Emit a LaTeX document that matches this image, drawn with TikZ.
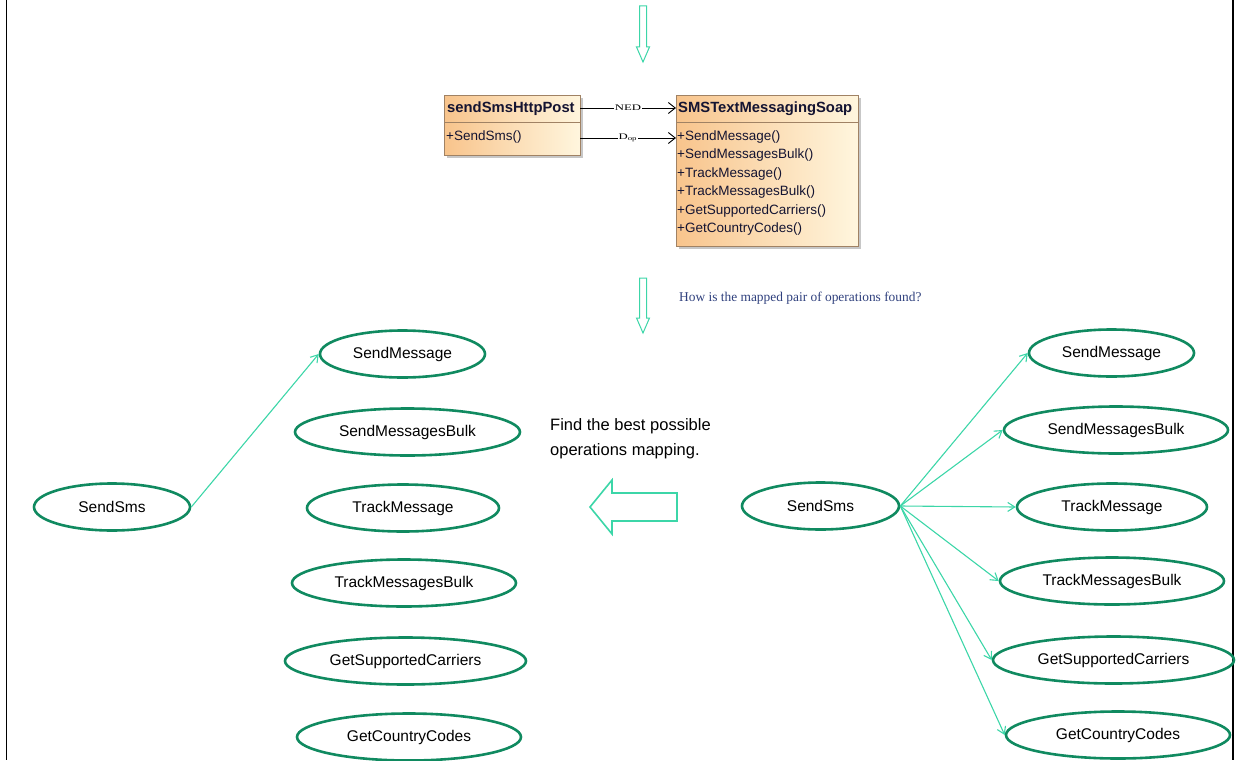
\documentclass[tikz,border=0pt]{standalone}
\usepackage{fontspec}
\setmainfont{Liberation Sans}
\newfontfamily\serifq{Liberation Serif}
\usetikzlibrary{shapes.geometric,arrows.meta,shadows}
\definecolor{teal2}{RGB}{60,214,168}
\definecolor{egreen}{RGB}{16,138,96}
\definecolor{qblue}{RGB}{47,64,125}
\definecolor{umlA}{RGB}{248,196,140}
\definecolor{umlB}{RGB}{255,246,222}
\definecolor{umlBorder}{RGB}{160,130,100}
\definecolor{umlText}{RGB}{20,20,50}
\newcommand{\widelab}[1]{\scalebox{1.5}[1]{#1}}
\tikzset{
  opnode/.style={ellipse, draw=egreen, line width=2.6pt, minimum height=47, inner sep=0pt,
     font=\fontsize{15.5}{18}\selectfont, text=black},
  maplink/.style={draw=teal2, line width=1.1pt, -{Straight Barb[length=7pt,width=9pt]}},
  hollowarrow/.style={draw=teal2, line width=1.3pt, fill=white},
  umlbox/.style={draw=umlBorder, line width=0.8pt, left color=umlA, right color=umlB,
     drop shadow={shadow xshift=3pt, shadow yshift=-3pt, fill=gray!55, opacity=0.8}},
  umltext/.style={text=umlText, inner sep=0pt, anchor=west},
  umllink/.style={draw=black, line width=0.9pt, -{Straight Barb[length=7pt,width=11pt]}},
  linklabel/.style={fill=white, inner sep=0.5pt, font=\serifq\fontsize{8.5}{10}\selectfont}
}
\begin{document}
\begin{tikzpicture}[x=1pt,y=-1pt]
\useasboundingbox (0,0) rectangle (1238,760);
% frame side lines
\draw[line width=1.4pt] (6.5,0) -- (6.5,760);
\draw[line width=1.4pt] (1233,0) -- (1233,760);

% top hollow down arrow
\draw[hollowarrow, line width=1pt] (639.5,6) -- (646.5,6) -- (646.5,47) -- (649.5,47) -- (643,62) -- (636.5,47) -- (639.5,47) -- cycle;

% UML classes
\node[umlbox, minimum width=136, minimum height=60, anchor=north west, inner sep=0pt] (post) at (444,95) {};
\draw[umlBorder, line width=0.8pt] (444,122) -- (580,122);
\node[umltext, font=\bfseries\fontsize{14.8}{16}\selectfont] (postname) at (447,109) {sendSmsHttpPost};
\node[umltext, font=\fontsize{13.5}{16}\selectfont] (postop) at (446,137.5) {+SendSms()};
\coordinate (postbody) at (580,138);

\node[umlbox, minimum width=182, minimum height=151, anchor=north west, inner sep=0pt] (soap) at (676,95) {};
\draw[umlBorder, line width=0.8pt] (676,122) -- (858,122);
\node[umltext, font=\bfseries\fontsize{14.8}{16}\selectfont] (soapname) at (678,109) {SMSTextMessagingSoap};
\node[umltext, anchor=north west, align=left, font=\fontsize{13.5}{18.4}\selectfont] (soapops) at (677,130.5)
  {+SendMessage()\\+SendMessagesBulk()\\+TrackMessage()\\+TrackMessagesBulk()\\+GetSupportedCarriers()\\+GetCountryCodes()};
\coordinate (soaphead) at (676,108);
\coordinate (soapbody) at (676,138);
\coordinate (posthead) at (580,108);

\draw[umllink] (posthead) -- node[linklabel] {\widelab{NED}} (soaphead);
\draw[umllink] (postbody) -- node[linklabel] {\widelab{D\textsubscript{op}}} (soapbody);

% second hollow down arrow
\draw[hollowarrow, line width=1pt] (639.5,278) -- (646.5,278) -- (646.5,318) -- (649.5,318) -- (643,333) -- (636.5,318) -- (639.5,318) -- cycle;
\node[anchor=west, text=qblue, font=\serifq\fontsize{13.4}{15}\selectfont, inner sep=0pt] (question) at (679,298) {How is the mapped pair of operations found?};

% left side
\node[opnode, minimum width=156] (lsms) at (112,507) {SendSms};
\node[opnode, minimum width=165] (l1) at (402.5,354) {SendMessage};
\node[opnode, minimum width=225] (l2) at (407.5,432) {SendMessagesBulk};
\node[opnode, minimum width=192] (l3) at (403,508) {TrackMessage};
\node[opnode, minimum width=224] (l4) at (404,583) {TrackMessagesBulk};
\node[opnode, minimum width=241] (l5) at (405.5,661) {GetSupportedCarriers};
\node[opnode, minimum width=224] (l6) at (409,737) {GetCountryCodes};
\draw[maplink] (lsms.east) -- (l1.west);

% middle text and big arrow
\node[anchor=north west, align=left, font=\fontsize{16.5}{25}\selectfont, inner sep=0pt] (findtext) at (550,418)
  {Find the best possible\\operations mapping.};
\draw[hollowarrow, line width=1.6pt] (590,507) -- (612,480) -- (612,493) -- (677,493) -- (677,521) -- (612,521) -- (612,534) -- cycle;

% right side
\node[opnode, minimum width=157] (rsms) at (820.5,506) {SendSms};
\node[opnode, minimum width=165] (r1) at (1111.5,353) {SendMessage};
\node[opnode, minimum width=224] (r2) at (1116,430) {SendMessagesBulk};
\node[opnode, minimum width=190] (r3) at (1112,507) {TrackMessage};
\node[opnode, minimum width=224] (r4) at (1112,581) {TrackMessagesBulk};
\node[opnode, minimum width=241] (r5) at (1113.5,660) {GetSupportedCarriers};
\node[opnode, minimum width=224] (r6) at (1118,735) {GetCountryCodes};
\foreach \t in {r1,r2,r3,r4,r5,r6}
  \draw[maplink] (rsms.east) -- (\t.west);
\end{tikzpicture}
\end{document}
